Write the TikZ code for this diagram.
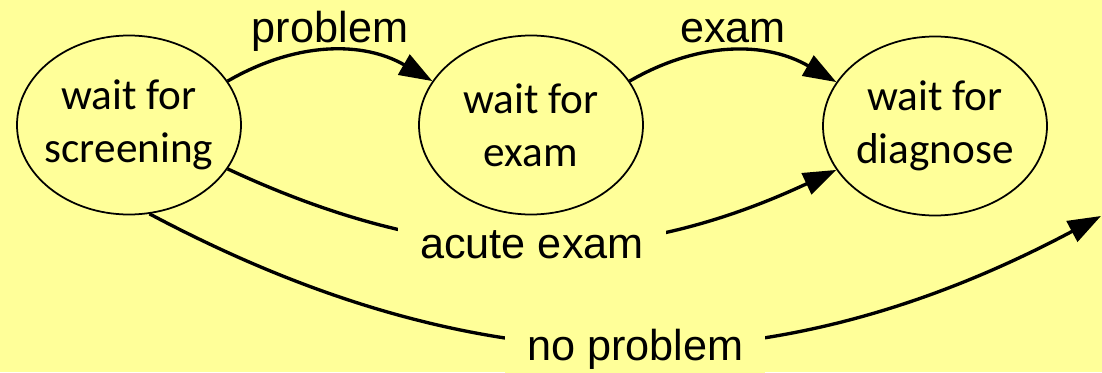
\documentclass[tikz,border=0pt]{standalone}
\usepackage{fontspec}
\setmainfont{Carlito}
\newfontfamily\arialfont{Liberation Sans}
\usetikzlibrary{shapes.geometric,arrows.meta}
\definecolor{bgyellow}{RGB}{255,255,153}

\begin{document}
\begin{tikzpicture}[
		state/.style={ellipse, draw, line width=1pt, align=center, inner xsep=-0.2cm,
			minimum width=4.48cm, minimum height=3.58cm, font=\fontsize{24.6}{30}\selectfont},
		trans/.style={-{Triangle[length=0.66cm,width=0.46cm]}, line width=1.9pt},
		lbl/.style={font=\arialfont\fontsize{24.6}{30}\selectfont, inner sep=0pt},
		gaplbl/.style={lbl, fill=bgyellow, inner xsep=0.44cm, inner ysep=2pt}]
			\fill[bgyellow] (0,0) rectangle (22.04,7.44);
			\useasboundingbox (0,0) rectangle (22.04,7.44);

			\node[state] (S) at (2.58,4.94) {wait for\\screening};
			\node[state] (E) at (10.62,4.94) {wait for\\exam};
			\node[state] (D) at (18.70,4.92) {wait for\\diagnose};
			\coordinate (out) at (22.02,3.12);

			\draw[trans] (S.24) to[out=30,in=150]
				node[lbl, anchor=base, yshift=0.18cm] (lp) {problem} (E.156);
			\draw[trans] (E.24) to[out=30,in=150]
				node[lbl, anchor=base, yshift=0.18cm] (le) {exam} (D.156);
			\draw[trans] (S.-24) to[out=-25,in=205]
				node[gaplbl] (la) {acute exam} (D.204);
			\draw[trans] (S.-77) to[out=-28,in=208]
				node[gaplbl, xshift=0.2cm, yshift=-0.06cm] (ln) {no problem} (out);
		\end{tikzpicture}
\end{document}
